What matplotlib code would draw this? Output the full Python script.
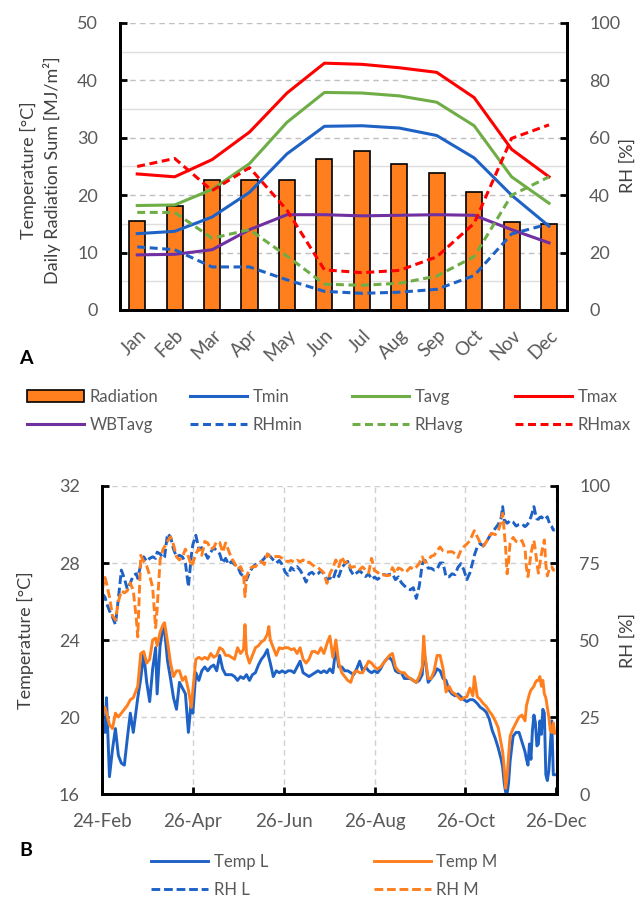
import numpy as np
import pandas as pd
import matplotlib
matplotlib.use('Agg')
import matplotlib.pyplot as plt
import matplotlib.dates as mdates
from matplotlib.patches import Patch
from matplotlib.lines import Line2D

plt.rcParams['font.family'] = ['Lato', 'DejaVu Sans']

# ---- panel A: monthly climate ----
months = ['Jan', 'Feb', 'Mar', 'Apr', 'May', 'Jun', 'Jul', 'Aug', 'Sep', 'Oct', 'Nov', 'Dec']
radiation = [15.5, 18.2, 22.6, 22.6, 22.6, 26.3, 27.7, 25.5, 23.8, 20.6, 15.4, 14.9]
tmin = [13.3, 13.7, 16.2, 20.5, 27.2, 32.0, 32.1, 31.7, 30.4, 26.5, 20.0, 14.6]
tavg = [18.2, 18.3, 21.0, 25.5, 32.7, 37.9, 37.8, 37.3, 36.2, 32.1, 23.2, 18.6]
tmax = [23.7, 23.2, 26.2, 31.0, 37.8, 43.0, 42.8, 42.2, 41.4, 37.0, 28.0, 23.2]
wbtavg = [9.6, 9.7, 10.5, 14.0, 16.6, 16.6, 16.4, 16.5, 16.6, 16.5, 14.0, 11.7]
rhmin = [22.0, 21.0, 15.0, 15.0, 10.5, 6.5, 5.8, 6.2, 7.2, 12.0, 26.5, 30.0]
rhavg = [34.0, 34.0, 25.0, 28.0, 18.8, 9.0, 8.6, 9.3, 11.8, 18.6, 40.0, 46.4]
rhmax = [50.0, 52.8, 41.6, 49.6, 34.8, 14.0, 13.0, 13.8, 18.5, 30.2, 59.8, 64.5]

# ---- panel B: daily indoor records, days after 24-Feb ----
day_offset = [0, 2, 3, 5, 7, 9, 11, 13, 15, 17, 19, 21, 23, 24, 26, 28, 30, 32, 34, 36,
              37, 39, 41, 42, 44, 46, 48, 50, 52, 54, 56, 58, 60, 61, 63, 65, 67, 69, 71, 73,
              75, 77,
              79, 81, 83, 85, 87, 89, 91, 93, 95, 96, 97, 99, 101, 103, 105, 107, 109, 111, 112, 113,
              115, 117, 119, 121, 123, 125, 127, 129, 131, 133, 135, 137, 139, 141, 143, 145, 147, 149, 151,
              153, 155, 157, 159, 161, 163, 165, 167, 169, 171, 173, 175, 177, 179, 181, 183, 185, 187, 189, 191,
              193, 195, 197, 199, 201, 203, 205, 207, 209, 211, 213, 215, 216, 217, 219, 221, 223, 225, 227, 229,
              231, 233, 235, 237, 239, 241, 243, 245, 247, 249, 250, 252, 254, 256, 258, 260, 262, 264, 266, 268,
              269, 270, 271, 272, 273, 274, 276, 278, 280, 282, 284, 285, 286, 287, 288, 289, 290, 291, 292, 293,
              294, 295, 296, 297, 298, 299, 300, 301, 302, 303, 304]

temp_l = [19.7, 19.2, 21.0, 16.9, 18.3, 19.4, 18.0, 17.6, 17.5, 18.9, 20.2, 19.2, 20.4, 21.0, 22.0, 23.3, 21.8, 20.8, 22.5, 23.6,
          21.2, 23.7, 24.7, 24.5, 22.9, 22.0, 21.0, 20.4, 21.8, 21.5, 21.2, 19.2, 20.9, 20.2, 22.3, 21.9, 22.4, 22.6, 22.4, 22.6,
          22.7, 22.4,
          23.2, 22.5, 22.2, 22.2, 22.2, 22.1, 21.9, 22.1, 22.0, 22.1, 22.2, 21.9, 22.2, 22.3, 22.7, 23.0, 23.2, 23.5, 23.1, 22.8,
          22.1, 22.4, 22.3, 22.4, 22.3, 22.4, 22.4, 22.3, 22.6, 22.9, 22.3, 22.2, 22.1, 22.2, 22.3, 22.4, 22.3, 22.4, 22.3,
          22.5, 22.3, 23.6, 22.6, 22.6, 22.4, 22.4, 22.3, 22.2, 22.5, 22.9, 22.4, 22.6, 22.4, 22.3, 22.4, 22.3, 22.5, 22.8, 23.0,
          23.1, 22.9, 22.4, 22.3, 22.3, 22.0, 22.0, 22.0, 21.9, 21.8, 21.9, 22.2, 23.6, 23.0, 21.8, 22.0, 22.2, 22.5, 22.4, 22.0,
          21.9, 21.4, 21.2, 21.1, 21.2, 21.05, 20.9, 20.8, 20.9, 20.9, 20.85, 20.7, 20.5, 20.4, 20.25, 19.9, 19.3, 18.9, 18.4, 17.8,
          17.4, 16.6, 16.1, 16.0, 16.6, 17.7, 19.0, 19.2, 19.2, 18.7, 18.2, 17.8, 17.5, 18.6, 17.8, 19.3, 20.1, 19.7, 18.5, 18.6,
          19.8, 19.1, 20.4, 20.2, 17.0, 16.7, 17.2, 18.5, 19.8, 17.0, 17.0]

temp_m = [20.5, 20.5, 20.2, 19.6, 19.4, 20.2, 20.0, 20.2, 20.4, 20.6, 20.9, 21.0, 21.4, 21.6, 23.3, 23.4, 22.8, 23.0, 24.0, 24.1,
          23.7, 24.4, 24.8, 24.9, 23.9, 22.8, 22.1, 22.4, 22.4, 21.9, 22.1, 21.4, 20.5, 21.4, 23.0, 23.1, 23.0, 23.1, 23.0, 23.3,
          23.1, 23.2,
          23.6, 23.5, 23.2, 23.2, 23.1, 23.0, 23.6, 23.3, 23.5, 24.8, 23.3, 22.8, 23.2, 23.6, 23.7, 23.9, 24.0, 24.3, 24.7, 24.0,
          23.6, 23.2, 23.6, 23.55, 23.6, 23.6, 23.5, 23.55, 23.3, 23.6, 23.0, 22.8, 23.0, 23.4, 23.4, 23.3, 23.6, 23.3, 23.8,
          24.2, 23.1, 24.0, 22.8, 22.3, 22.1, 21.9, 21.8, 22.3, 22.4, 22.3, 22.3, 22.6, 22.9, 22.8, 22.6, 22.5, 22.6, 22.8, 23.0,
          23.2, 23.3, 22.6, 22.4, 22.3, 22.3, 22.1, 22.0, 21.9, 21.8, 22.1, 22.6, 24.2, 23.1, 22.0, 22.0, 22.4, 23.2, 23.2, 22.5,
          21.3, 21.6, 21.3, 21.2, 21.05, 20.9, 21.0, 21.05, 21.5, 21.1, 22.1, 21.05, 20.9, 20.7, 20.55, 20.3, 20.1, 19.8, 19.45, 18.6,
          18.2, 17.4, 16.3, 16.9, 18.0, 19.0, 19.4, 19.7, 20.0, 20.1, 19.8, 20.6, 20.9, 21.2, 21.4, 21.5, 21.6, 21.8, 21.9, 21.9,
          22.1, 21.6, 21.9, 21.2, 21.0, 20.5, 20.0, 19.3, 19.2, 19.7, 19.15]

rh_l = [65.2, 63.9, 62.0, 59.5, 57.5, 55.0, 63.5, 72.7, 70.0, 66.5, 68.5, 71.0, 71.5, 70.0, 74.5, 77.0, 75.5, 76.5, 77.0, 76.5,
        78.5, 78.0, 76.5, 77.0, 84.5, 83.5, 79.5, 77.0, 77.5, 77.0, 75.0, 67.3, 77.5, 81.0, 84.0, 79.5, 80.0, 78.5, 76.5, 78.5,
        80.0, 79.0,
        78.0, 75.0, 76.5, 74.5, 75.5, 74.5, 74.0, 71.6, 70.6, 70.0, 69.5, 72.0, 73.5, 74.5, 74.9, 75.5, 76.5, 78.1, 77.5, 77.1,
        76.0, 75.0, 75.8, 74.5, 72.0, 71.0, 73.5, 72.7, 73.8, 72.7, 71.0, 68.8, 71.5, 72.0, 71.0, 71.5, 72.5, 71.5, 69.5,
        70.2, 69.5, 72.5, 70.6, 73.5, 74.7, 75.5, 72.5, 71.0, 71.8, 72.5, 71.5, 70.6, 71.5, 69.7, 70.4, 69.7, 70.4, 71.3, 71.0,
        71.3, 71.5, 69.6, 70.5, 68.6, 67.6, 66.8, 66.3, 67.0, 63.5, 67.5, 74.5, 75.7, 75.8, 73.3, 73.3, 72.7, 73.0, 75.0, 75.0,
        70.5, 70.5, 71.5, 71.2, 73.6, 74.8, 72.7, 69.6, 71.8, 75.5, 77.5, 80.3, 81.3, 80.5, 81.8, 83.5, 84.9, 86.2, 87.5, 89.7,
        93.3, 89.0, 88.5, 87.9, 88.3, 88.8, 88.3, 87.0, 87.5, 87.7, 86.8, 87.2, 87.8, 88.7, 90.0, 91.5, 93.3, 91.0, 89.3, 89.2,
        89.8, 90.0, 89.5, 89.0, 89.4, 90.0, 88.5, 87.2, 86.8, 85.7, 85.7]

rh_m = [66.2, 70.3, 68.5, 64.0, 58.0, 56.5, 62.5, 66.0, 65.3, 66.0, 68.5, 66.0, 57.0, 51.0, 77.5, 75.5, 74.0, 71.0, 67.0, 54.0,
        60.0, 76.0, 79.5, 80.3, 82.0, 83.5, 81.0, 77.0, 76.0, 77.0, 79.5, 77.1, 74.0, 75.0, 78.0, 79.7, 77.5, 82.0, 81.5, 79.5,
        80.0, 82.0,
        81.7, 78.5, 81.5, 79.0, 76.5, 75.0, 73.0, 73.8, 71.6, 64.1, 70.6, 73.0, 73.8, 73.8, 75.0, 75.5, 74.5, 78.0, 77.5, 77.1,
        77.1, 77.1, 77.1, 76.5, 75.6, 75.5, 75.8, 75.3, 75.9, 75.4, 76.0, 75.1, 75.3, 74.5, 73.8, 73.5, 72.7, 71.7, 68.4,
        71.5, 73.5, 76.0, 73.8, 77.0, 75.0, 75.6, 73.5, 73.8, 73.8, 72.9, 73.7, 72.7, 71.8, 76.5, 72.5, 72.0, 71.0, 71.2, 70.9,
        71.0, 73.5, 71.7, 73.4, 73.0, 72.0, 72.5, 73.6, 72.9, 73.7, 74.8, 77.0, 76.0, 75.2, 75.8, 77.2, 77.5, 79.0, 80.2, 78.9,
        78.5, 78.6, 78.7, 78.0, 76.8, 79.1, 80.3, 81.2, 82.2, 84.5, 85.5, 83.5, 81.5, 80.5, 81.8, 83.8, 84.6, 84.2, 85.3, 88.5,
        91.1, 85.7, 79.8, 71.5, 75.5, 81.5, 83.3, 82.0, 81.6, 82.3, 79.6, 73.5, 70.6, 74.2, 78.1, 80.3, 82.3, 79.0, 75.0, 71.7,
        74.8, 77.8, 80.5, 82.5, 74.5, 70.8, 72.5, 73.7, 73.8, 72.7, 72.7]

tick_dates = ['2019-02-24', '2019-04-26', '2019-06-26', '2019-08-26', '2019-10-26', '2019-12-26']

BLUE = '#1f62c6'
GREEN = '#6fad47'
RED = '#ff0000'
PURPLE = '#7030a0'
ORANGE = '#ff7f1e'
TXT = '#595959'
LAB = '#404040'
DASH_A = (2.6, 1.5)
DASH_B = (3.0, 1.3)


def style_spines(ax):
    ax.spines['top'].set_visible(False)
    for s in ['left', 'right', 'bottom']:
        ax.spines[s].set_linewidth(2.0)
        ax.spines[s].set_color('black')
    ax.tick_params(which='major', direction='in', length=5, width=2, color='black',
                   labelsize=13, labelcolor=TXT, pad=16)
    ax.tick_params(which='minor', length=0)


fig = plt.figure(figsize=(6.36, 8.98), dpi=100)

# ================= panel A =================
axA = fig.add_axes([0.1887, 0.6548, 0.7028, 0.3196])
x = np.arange(len(months))
axA.bar(x, radiation, width=0.43, color=ORANGE, edgecolor='black', linewidth=1.2, zorder=2)
axA.plot(x, tmin, color=BLUE, lw=2.2, zorder=3)
axA.plot(x, tavg, color=GREEN, lw=2.2, zorder=3)
axA.plot(x, tmax, color=RED, lw=2.2, zorder=3)
axA.plot(x, wbtavg, color=PURPLE, lw=2.2, zorder=3)
axA.set_ylim(0, 50)
axA.set_yticks(range(0, 51, 10))
axA.set_yticks(range(5, 50, 10), minor=True)
axA.grid(axis='y', which='major', color='#c0c0c0', ls=(0, (4, 3)), lw=1)
axA.grid(axis='y', which='minor', color='#dedede', lw=1)
axA.set_axisbelow(True)
axA.set_xlim(-0.46, 11.48)
axA.set_xticks(x)
axA.set_xticklabels(months, rotation=45, ha='right', va='top', rotation_mode='anchor')
style_spines(axA)
axA.tick_params(axis='x', length=0, pad=12, labelsize=13.5)

axA2 = axA.twinx()
axA2.plot(x, rhmin, color=BLUE, lw=2.2, dashes=DASH_A)
axA2.plot(x, rhavg, color=GREEN, lw=2.2, dashes=DASH_A)
axA2.plot(x, rhmax, color=RED, lw=2.2, dashes=DASH_A)
axA2.set_ylim(0, 100)
axA2.set_yticks(range(0, 101, 20))
style_spines(axA2)

fig.text(40 / 636, 1 - 170 / 898, 'Temperature [°C]\nDaily Radiation Sum [MJ/m²]',
         rotation=90, ha='center', va='center', multialignment='center',
         fontsize=13, color=LAB, linespacing=1.4)
fig.text(0.999, 1 - 165 / 898, 'RH [%]', rotation=90, ha='right', va='center',
         fontsize=13, color=LAB)
fig.text(19 / 636, 1 - 359 / 898, 'A', fontsize=14, fontweight='bold', ha='left', va='center')

legA_cols = [
    [Patch(facecolor=ORANGE, edgecolor='black', linewidth=1.2, label='Radiation'),
     Line2D([], [], color=PURPLE, lw=2.2, label='WBTavg')],
    [Line2D([], [], color=BLUE, lw=2.2, label='Tmin'),
     Line2D([], [], color=BLUE, lw=2.2, dashes=DASH_A, label='RHmin')],
    [Line2D([], [], color=GREEN, lw=2.2, label='Tavg'),
     Line2D([], [], color=GREEN, lw=2.2, dashes=DASH_A, label='RHavg')],
    [Line2D([], [], color=RED, lw=2.2, label='Tmax'),
     Line2D([], [], color=RED, lw=2.2, dashes=DASH_A, label='RHmax')],
]
for xpx, hs in zip([27, 190, 352, 515], legA_cols):
    fig.legend(handles=hs, loc='center left', bbox_to_anchor=(xpx / 636, 1 - 411 / 898),
               frameon=False, fontsize=12, labelcolor=TXT, handlelength=3.4,
               handleheight=0.75, handletextpad=0.35, labelspacing=0.75,
               borderpad=0, borderaxespad=0)

# ================= panel B =================
base = pd.Timestamp('2019-02-24')
dates = base + pd.to_timedelta(day_offset, unit='D')

axB = fig.add_axes([0.1604, 0.1158, 0.7154, 0.343])
axB.plot(dates, temp_l, color=BLUE, lw=2.1)
axB.plot(dates, temp_m, color=ORANGE, lw=2.1)
axB.set_ylim(16, 32)
axB.set_yticks(range(16, 33, 4))
axB.set_xlim(base, base + pd.Timedelta(days=305.5))
axB.set_xticks(pd.to_datetime(tick_dates))
axB.xaxis.set_major_formatter(mdates.DateFormatter('%d-%b'))
axB.grid(True, color='#d0d0d0', ls=(0, (4, 3)), lw=1)
axB.set_axisbelow(True)
style_spines(axB)
axB.tick_params(axis='x', pad=14, labelsize=13.5)

axB2 = axB.twinx()
axB2.plot(dates, rh_l, color=BLUE, lw=2.1, dashes=DASH_B)
axB2.plot(dates, rh_m, color=ORANGE, lw=2.1, dashes=DASH_B)
axB2.set_ylim(0, 100)
axB2.set_yticks(range(0, 101, 25))
style_spines(axB2)

fig.text(25 / 636, 1 - 640 / 898, 'Temperature [°C]', rotation=90, ha='center', va='center',
         fontsize=13, color=LAB)
fig.text(0.999, 1 - 640 / 898, 'RH [%]', rotation=90, ha='right', va='center',
         fontsize=13, color=LAB)
fig.text(19 / 636, 1 - 851 / 898, 'B', fontsize=14, fontweight='bold', ha='left', va='center')

legB_cols = [
    [Line2D([], [], color=BLUE, lw=2.1, label='Temp L'),
     Line2D([], [], color=BLUE, lw=2.1, dashes=DASH_B, label='RH L')],
    [Line2D([], [], color=ORANGE, lw=2.1, label='Temp M'),
     Line2D([], [], color=ORANGE, lw=2.1, dashes=DASH_B, label='RH M')],
]
for xpx, hs in zip([151, 374], legB_cols):
    fig.legend(handles=hs, loc='center left', bbox_to_anchor=(xpx / 636, 1 - 876 / 898),
               frameon=False, fontsize=12, labelcolor=TXT, handlelength=3.4,
               handletextpad=0.35, labelspacing=0.75, borderpad=0, borderaxespad=0)

fig.savefig('out.png', dpi=100)
